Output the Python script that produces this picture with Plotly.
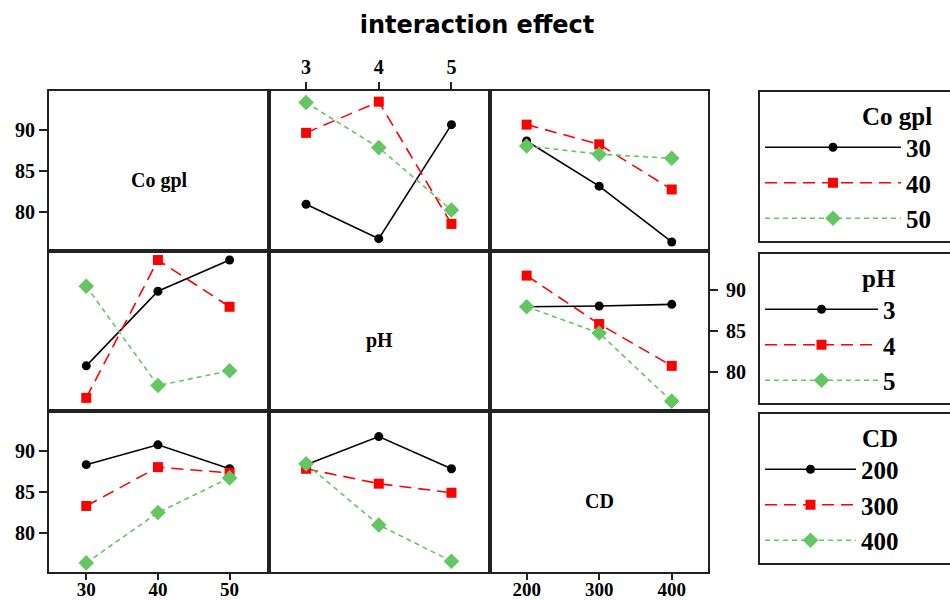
import plotly.graph_objects as go

# ---------------- data ----------------
co_levels = [30, 40, 50]
ph_levels = [3, 4, 5]
cd_levels = [200, 300, 400]

co_names = ["30", "40", "50"]
ph_names = ["3", "4", "5"]
cd_names = ["200", "300", "400"]

# row 1: lines = Co gpl levels
co_lines_vs_ph = [[81.0, 76.8, 90.7], [89.7, 93.5, 78.6], [93.4, 87.9, 80.3]]
co_lines_vs_cd = [[88.7, 83.2, 76.4], [90.7, 88.3, 82.8], [88.1, 87.1, 86.6]]
# row 2: lines = pH levels
ph_lines_vs_co = [[80.8, 89.9, 93.7], [76.9, 93.7, 88.0], [90.5, 78.4, 80.2]]
ph_lines_vs_cd = [[88.0, 88.1, 88.3], [91.8, 85.9, 80.8], [88.0, 84.8, 76.5]]
# row 3: lines = CD levels
cd_lines_vs_co = [[88.3, 90.7, 87.8], [83.3, 88.0, 87.3], [76.4, 82.5, 86.7]]
cd_lines_vs_ph = [[88.3, 91.7, 87.8], [87.8, 86.0, 84.9], [88.4, 81.0, 76.6]]

y_ticks = [80, 85, 90]
factor_labels = ["Co gpl", "pH", "CD"]

# ---------------- styling ----------------
W, H = 950, 600
colors = ["black", "#ff0000", "#63c663"]
dashes = ["solid", "12px,7px", "5px,4px"]
symbols = ["circle", "square", "diamond"]
msizes = [9, 10, 12]
serif = "Liberation Serif"
NB = "\u00a0"

col_px = [(49, 269), (269, 490), (490, 708)]
row_px = [(91, 251), (251, 411), (411, 572)]
x_levels = [co_levels, ph_levels, cd_levels]
x_ranges = [[24.8, 55.5], [2.49, 5.53], [149.5, 450.0]]
y_range = [75.3, 94.8]

fig = go.Figure()


def ax_name(r, c):
    k = r * 3 + c + 1
    return ("x" if k == 1 else f"x{k}"), ("y" if k == 1 else f"y{k}")


legend_keys = ["legend", "legend2", "legend3"]
name_pads = [3, 8, 8]
panels = {
    (0, 1): (co_lines_vs_ph, co_names, 0),
    (0, 2): (co_lines_vs_cd, co_names, 0),
    (1, 0): (ph_lines_vs_co, ph_names, 1),
    (1, 2): (ph_lines_vs_cd, ph_names, 1),
    (2, 0): (cd_lines_vs_co, cd_names, 2),
    (2, 1): (cd_lines_vs_ph, cd_names, 2),
}
shown = set()
for (r, c), (series, names, li) in panels.items():
    xa, ya = ax_name(r, c)
    for i, vals in enumerate(series):
        key = (li, i)
        fig.add_trace(go.Scatter(
            x=x_levels[c], y=vals, xaxis=xa, yaxis=ya,
            mode="lines+markers", name=names[i] + NB * name_pads[li],
            legend=legend_keys[li], showlegend=key not in shown,
            line=dict(color=colors[i], width=1.6, dash=dashes[i]),
            marker=dict(color=colors[i], symbol=symbols[i], size=msizes[i]),
        ))
        shown.add(key)

# empty traces so the diagonal panels are drawn
for i in range(3):
    xa, ya = ax_name(i, i)
    fig.add_trace(go.Scatter(x=[None], y=[None], xaxis=xa, yaxis=ya,
                             showlegend=False, hoverinfo="skip", mode="markers"))

tickfont = dict(family=serif, size=20, color="black", weight="bold")
layout = {}
for r in range(3):
    for c in range(3):
        k = r * 3 + c + 1
        xk = "xaxis" if k == 1 else f"xaxis{k}"
        yk = "yaxis" if k == 1 else f"yaxis{k}"
        x0, x1 = col_px[c]
        y0, y1 = row_px[r]
        xa, ya = ax_name(r, c)
        xd = dict(domain=[x0 / W, x1 / W], range=x_ranges[c], anchor=ya,
                  showline=True, mirror=True, linecolor="#222", linewidth=2,
                  showgrid=False, zeroline=False, tickvals=x_levels[c],
                  ticks="", showticklabels=False, tickfont=tickfont,
                  ticklen=7, tickwidth=2, tickcolor="#222", fixedrange=True)
        yd = dict(domain=[1 - y1 / H, 1 - y0 / H], range=y_range, anchor=xa,
                  showline=True, mirror=True, linecolor="#222", linewidth=2,
                  showgrid=False, zeroline=False, tickvals=y_ticks,
                  ticks="", showticklabels=False, tickfont=tickfont,
                  ticklen=8, tickwidth=2, tickcolor="#222", fixedrange=True)
        if (r, c) == (0, 1):
            xd.update(side="top", ticks="outside", showticklabels=True)
        if r == 2 and c in (0, 2):
            xd.update(side="bottom", ticks="outside", showticklabels=True,
                      ticklen=6, ticklabelstandoff=-7,
                      tickfont=dict(tickfont, size=19))
        if c == 0 and r in (0, 2):
            yd.update(side="left", ticks="outside", showticklabels=True)
        if (r, c) == (1, 2):
            yd.update(side="right", ticks="outside", showticklabels=True,
                      ticklabelstandoff=4)
        layout[xk] = xd
        layout[yk] = yd

annotations = []
for i, lab in enumerate(factor_labels):
    xa, ya = ax_name(i, i)
    annotations.append(dict(
        text=lab, x=0.5, y=0.44, xref=f"{xa} domain", yref=f"{ya} domain",
        showarrow=False, font=dict(family=serif, size=20, color="black", weight="bold")))

leg_tops = [90, 252, 412]
legend_titles = ["Co gpl", "pH", "CD"]
item_widths = [136, 113, 91]
for j, lk in enumerate(legend_keys):
    layout[lk] = dict(
        x=758 / W, y=1 - leg_tops[j] / H, xanchor="left", yanchor="top",
        bordercolor="#222", borderwidth=2, bgcolor="white",
        font=dict(family=serif, size=25, color="black", weight="bold"),
        title=dict(text=NB * 16 + legend_titles[j], side="top",
                   font=dict(family=serif, size=25, color="black", weight="bold")),
        itemwidth=item_widths[j], tracegroupgap=0,
    )

fig.update_layout(
    width=W, height=H, margin=dict(l=0, r=0, t=0, b=0, autoexpand=False),
    paper_bgcolor="white", plot_bgcolor="white",
    title=dict(text="interaction effect", x=477 / W, xanchor="center",
               y=1 - 25 / H, yanchor="middle",
               font=dict(family="DejaVu Sans", size=24, color="black", weight="bold")),
    annotations=annotations,
    **layout,
)

fig.write_html("out.html", config={"displayModeBar": False},
               post_script="document.body.style.margin='0';")
